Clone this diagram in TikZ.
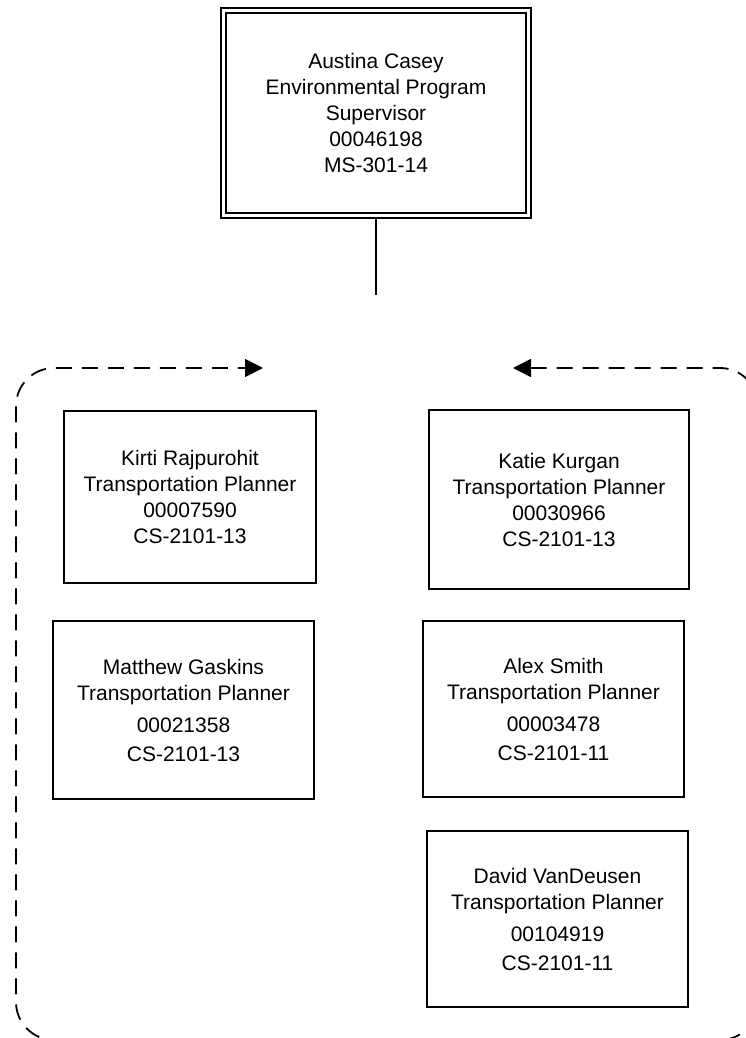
\documentclass[tikz,border=0pt]{standalone}
\usepackage{fontspec}
\setmainfont{Liberation Sans}
\usetikzlibrary{arrows.meta}
\tikzstyle{person}=[draw,line width=1.6pt,align=center,inner sep=0pt,font=\fontsize{21}{26}\selectfont]
\tikzstyle{head}=[person,double,line width=1.8pt,double distance=3.5pt,outer sep=3.6pt]
\tikzstyle{link}=[line width=1.5pt]
\tikzstyle{team}=[line width=1.8pt,dash pattern=on 16pt off 10pt,rounded corners=38pt,{Triangle[length=18pt,width=18pt]}-{Triangle[length=18pt,width=18pt]}]

\begin{document}
\begin{tikzpicture}[x=1pt,y=-1pt]
          \path[use as bounding box,clip] (0,0) rectangle (746,1038);

          \node[head,minimum width=305pt,minimum height=205pt] (casey) at (376,113)
               {Austina Casey\\Environmental Program\\Supervisor\\00046198\\MS-301-14};
          \coordinate (stem) at (376,295);
          \draw[link] (casey.south) -- (stem);

          \node[person,minimum width=252pt,minimum height=172pt] (kirti) at (190,497)
               {Kirti Rajpurohit\\Transportation Planner\\00007590\\CS-2101-13};
          \node[person,minimum width=260pt,minimum height=179pt] (katie) at (559,499.5)
               {Katie Kurgan\\Transportation Planner\\00030966\\CS-2101-13};
          \node[person,minimum width=261pt,minimum height=178pt] (matthew) at (183.5,710)
               {Matthew Gaskins\\Transportation Planner\\[6pt]00021358\\[3pt]CS-2101-13};
          \node[person,minimum width=261pt,minimum height=176pt] (alex) at (553.5,709)
               {Alex Smith\\Transportation Planner\\[6pt]00003478\\[3pt]CS-2101-11};
          \node[person,minimum width=261pt,minimum height=176pt] (david) at (557.5,919)
               {David VanDeusen\\Transportation Planner\\[6pt]00104919\\[3pt]CS-2101-11};

          \coordinate (tipL) at (263,368);
          \coordinate (tipR) at (513,368);
          \draw[team] (tipR) -- (758,368) -- (758,1040) -- (16,1040) -- (16,368) -- (tipL);
        \end{tikzpicture}
\end{document}
